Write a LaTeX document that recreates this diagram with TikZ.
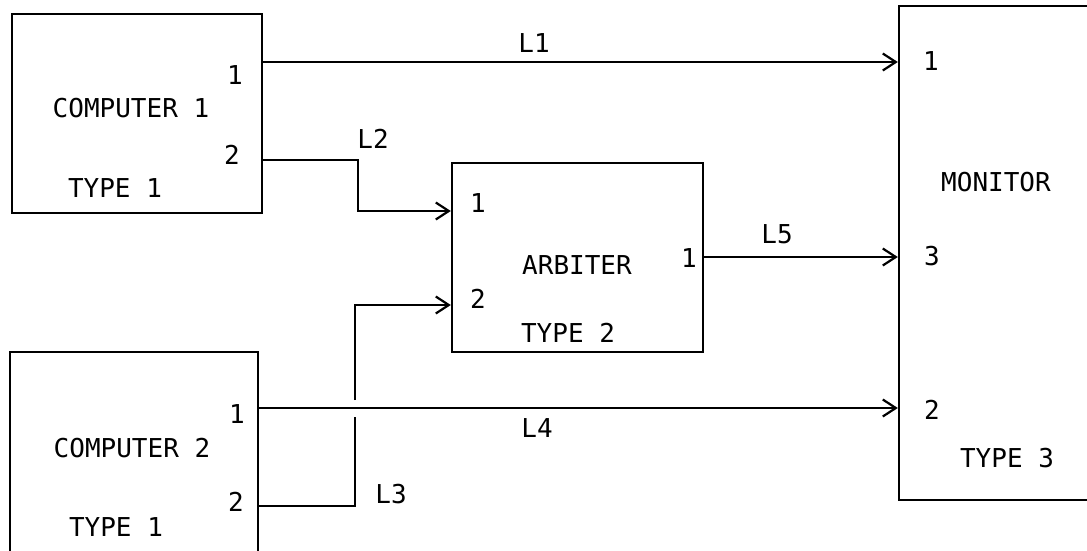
\documentclass[tikz,border=0pt]{standalone}
\usepackage{fontspec}
\setmainfont{DejaVu Sans Mono}
\usetikzlibrary{arrows.meta}
\begin{document}
\begin{tikzpicture}[x=1pt,y=-1pt,
  box/.style={draw,line width=2.4pt,rectangle,inner sep=0pt},
  lbl/.style={inner sep=0pt,font=\fontsize{26}{30}\selectfont},
  conn/.style={line width=2pt},
  arr/.style={conn,-{Straight Barb[length=13pt,width=17pt,line width=2.2pt]}}]
\clip (0,0) rectangle (1087,550);
% boxes
\node[box,minimum width=250pt,minimum height=199pt] (c1) at (137,113.5) {};
\node[box,minimum width=251pt,minimum height=189pt] (arb) at (577.5,257.5) {};
\node[box,minimum width=248pt,minimum height=218pt] (c2) at (134,461) {};
\node[box,minimum width=211pt,minimum height=494pt] (mon) at (1004.5,253) {};
% box texts
\node[lbl] (c1name) at (131,108) {COMPUTER 1};
\node[lbl] (c1type) at (115,188) {TYPE 1};
\node[lbl] (c1n1) at (235,75) {1};
\node[lbl] (c1n2) at (232,155) {2};
\node[lbl] (arbname) at (577,265) {ARBITER};
\node[lbl] (arbtype) at (568,333) {TYPE 2};
\node[lbl] (arbn1) at (478,203) {1};
\node[lbl] (arbn2) at (478,299) {2};
\node[lbl] (arbo1) at (689,258) {1};
\node[lbl] (c2name) at (132,448) {COMPUTER 2};
\node[lbl] (c2type) at (116,527) {TYPE 1};
\node[lbl] (c2n1) at (237,414) {1};
\node[lbl] (c2n2) at (236,502) {2};
\node[lbl] (monname) at (996,182) {MONITOR};
\node[lbl] (montype) at (1007,458) {TYPE 3};
\node[lbl] (monn1) at (931,61) {1};
\node[lbl] (monn3) at (932,256) {3};
\node[lbl] (monn2) at (932,410) {2};
% connector labels
\node[lbl] (tL1) at (534,43) {L1};
\node[lbl] (tL2) at (373,139) {L2};
\node[lbl] (tL3) at (391,494) {L3};
\node[lbl] (tL4) at (537,428) {L4};
\node[lbl] (tL5) at (777,234) {L5};
% port coordinates
\coordinate (p1) at (0,62);
\coordinate (p2) at (0,160);
\coordinate (pa1) at (0,211);
\coordinate (pa2) at (0,305);
\coordinate (p5) at (0,257);
\coordinate (p4) at (0,408);
\coordinate (p3) at (0,506);
\coordinate (j2) at (358,0);
\coordinate (j3) at (355,0);
\coordinate (gapT) at (355,400);
\coordinate (gapB) at (355,417);
% connectors
\draw[arr] (c1.east |- p1) -- (mon.west |- p1);
\draw[arr] (c1.east |- p2) -- (j2 |- p2) -- (j2 |- pa1) -- (arb.west |- pa1);
\draw[arr] (arb.east |- p5) -- (mon.west |- p5);
\draw[arr] (c2.east |- p4) -- (mon.west |- p4);
\draw[conn] (c2.east |- p3) -- (j3 |- p3) -- (gapB);
\draw[arr] (gapT) -- (j3 |- pa2) -- (arb.west |- pa2);
\end{tikzpicture}
\end{document}
